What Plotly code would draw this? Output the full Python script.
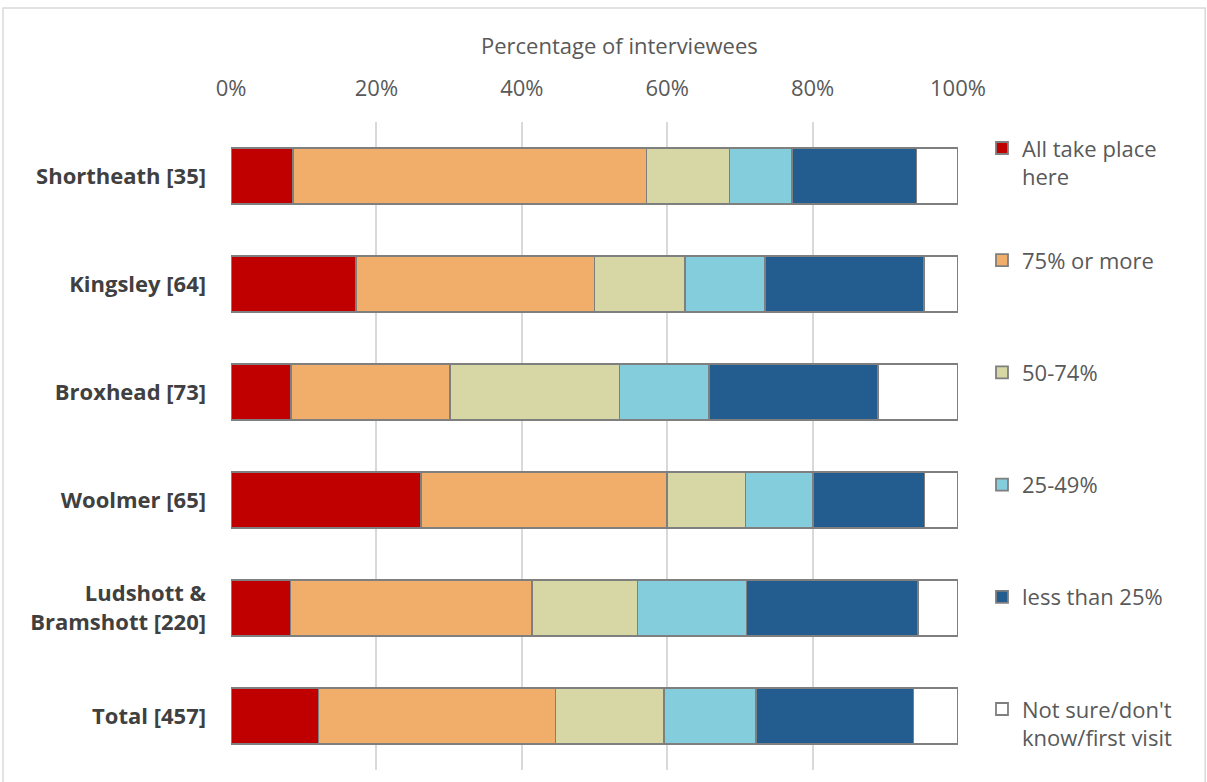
import plotly.graph_objects as go

# Sites surveyed (sample size in brackets)
sites = [
    "Shortheath [35]",
    "Kingsley [64]",
    "Broxhead [73]",
    "Woolmer [65]",
    "Ludshott &<br>Bramshott [220]",
    "Total [457]",
]

# Share of interviewees (%) in each response band, per site
all_here = [8.57, 17.19, 8.22, 26.15, 8.18, 12.04]
pct_75_plus = [48.57, 32.81, 21.92, 33.85, 33.18, 32.60]
pct_50_74 = [11.43, 12.50, 23.29, 10.77, 14.55, 14.88]
pct_25_49 = [8.57, 10.94, 12.33, 9.23, 15.00, 12.69]
pct_under_25 = [17.14, 21.88, 23.29, 15.38, 23.64, 21.66]
not_sure = [5.71, 4.69, 10.96, 4.62, 5.45, 6.13]

series_names = [
    "All take place<br>here",
    "75% or more<br>\u00a0",
    "50-74%<br>\u00a0",
    "25-49%<br>\u00a0",
    "less than 25%<br>\u00a0",
    "Not sure/don't<br>know/first visit",
]
series_values = [all_here, pct_75_plus, pct_50_74, pct_25_49, pct_under_25, not_sure]
series_colors = ["#C00000", "#F0AE6A", "#D7D7A6", "#84CDDD", "#235D8F", "#FFFFFF"]

x_ticks = [0, 20, 40, 60, 80, 100]

FONT = "Open Sans"
GREY = "#595959"

fig = go.Figure()
for name, vals, col in zip(series_names, series_values, series_colors):
    fig.add_trace(
        go.Bar(
            y=sites,
            x=vals,
            name=name,
            orientation="h",
            legendgroup=name,
            marker=dict(color=col, line=dict(color="#7F7F7F", width=1.8)),
        )
    )

fig.update_layout(
    width=1207,
    height=782,
    barmode="stack",
    bargap=0.48,
    plot_bgcolor="white",
    paper_bgcolor="white",
    margin=dict(l=231, r=249, t=122, b=12),
    font=dict(family=FONT, color=GREY, size=22),
    xaxis=dict(
        side="top",
        range=[0, 100],
        tickvals=x_ticks,
        ticktext=[f"{v}%" for v in x_ticks],
        showgrid=True,
        gridcolor="#D9D9D9",
        gridwidth=1.5,
        zeroline=False,
        showline=False,
        ticks="",
        ticklabelstandoff=21,
        tickfont=dict(family=FONT, size=22, color=GREY),
    ),
    yaxis=dict(
        type="category",
        autorange="reversed",
        showgrid=False,
        zeroline=False,
        showline=False,
        ticks="",
        ticklabelstandoff=24,
        tickfont=dict(family=FONT, size=22, color="#404040", weight="bold"),
    ),
    legend=dict(
        x=1.033,
        y=0.992,
        xanchor="left",
        yanchor="top",
        orientation="v",
        traceorder="grouped",
        tracegroupgap=52,
        valign="top",
        font=dict(family=FONT, size=22, color=GREY),
        bgcolor="rgba(0,0,0,0)",
    ),
    annotations=[
        dict(
            text="Percentage of interviewees",
            xref="paper",
            yref="paper",
            x=0.535,
            y=1.119,
            xanchor="center",
            yanchor="middle",
            showarrow=False,
            font=dict(family=FONT, size=22, color=GREY),
        )
    ],
    shapes=[
        dict(
            type="rect",
            xref="paper",
            yref="paper",
            x0=-0.3136,
            x1=1.34,
            y0=-0.03,
            y1=1.176,
            line=dict(color="#D9D9D9", width=1.5),
            fillcolor="rgba(0,0,0,0)",
            layer="below",
        )
    ],
)

fig.write_html("out.html")
